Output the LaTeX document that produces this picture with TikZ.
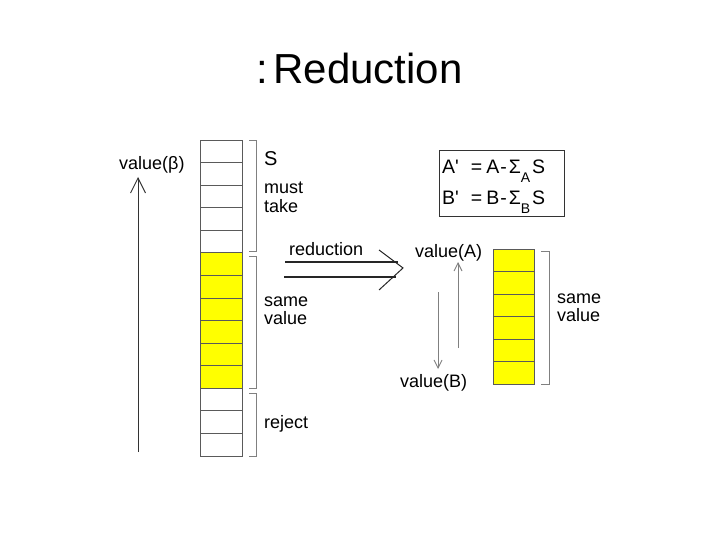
\documentclass[tikz,border=0pt]{standalone}
\usepackage{fontspec}
\setmainfont{Liberation Sans}
\usetikzlibrary{arrows.meta}
\definecolor{cellyellow}{RGB}{255,255,0}
\definecolor{brk}{RGB}{128,128,128}
\definecolor{celline}{RGB}{90,90,90}
\tikzset{
  cell/.style={draw=celline, line width=0.9pt, minimum width=42pt, minimum height=22.57pt, inner sep=0pt, fill=white},
  ycell/.style={cell, fill=cellyellow},
  rcell/.style={draw=celline, line width=0.9pt, minimum width=41pt, minimum height=22.5pt, inner sep=0pt, fill=cellyellow},
  bracket/.style={draw=brk, line width=1pt},
  lbl/.style={anchor=base west, inner sep=0pt, font=\fontsize{18}{18}\selectfont},
  barb/.style={-{Straight Barb[length=15pt,width=15pt,line width=0.9pt]}, line width=0.9pt},
  smallbarb/.style={-{Straight Barb[length=8pt,width=8pt,line width=0.9pt]}, line width=1pt, draw=brk},
}
\newcommand{\myformula}[1]{#1\textquotesingle\kern12pt=\kern4pt #1\kern1pt-\kern2ptΣ\raisebox{-0.45em}{\fontsize{14}{14}\selectfont #1}\kern2pt S}
\begin{document}
\begin{tikzpicture}[x=1pt,y=-1pt]
\useasboundingbox (0,0) rectangle (720,540);
% title
\node[anchor=base west, inner sep=0pt, font=\fontsize{42}{42}\selectfont] (title) at (256,84) {:\kern-10pt{} Reduction};
% left column
\foreach \i in {0,...,13}{
  \pgfmathtruncatemacro{\isy}{(\i>4)&&(\i<11)}
  \ifnum\isy=1
    \node[ycell] (L\i) at (221,{140+22.57*\i+11.285}) {};
  \else
    \node[cell] (L\i) at (221,{140+22.57*\i+11.285}) {};
  \fi
}
% brackets left
\draw[bracket] (249,141) -- (256,141) -- (256,251) -- (249,251);
\draw[bracket] (249,256) -- (256,256) -- (256,388) -- (249,388);
\draw[bracket] (249,393) -- (256,393) -- (256,456) -- (249,456);
% labels left
\node[lbl, font=\fontsize{20}{20}\selectfont] (S) at (264,166) {S};
\node[lbl] (must) at (264,194) {must};
\node[lbl] (take) at (264,213) {take};
\node[lbl] (same1) at (264,306) {same};
\node[lbl] (value1) at (264,324) {value};
\node[lbl] (reject) at (264,428) {reject};
% value(beta)
\node[lbl] (vbeta) at (119,170) {value(β)};
\coordinate (bstart) at (138,452);
\coordinate (btip) at (138,177);
\draw[barb, draw=black!80] (bstart) -- (btip);
% reduction arrow
\node[lbl] (red) at (289,255) {reduction};
\coordinate (r1a) at (285,262);
\coordinate (r1b) at (398,262);
\coordinate (r2a) at (284,277);
\coordinate (r2b) at (396,277);
\coordinate (ch1) at (379,250);
\coordinate (ch2) at (403,268);
\coordinate (ch3) at (379,290);
\draw[line width=1.3pt, black!85] (r1a) -- (r1b);
\draw[line width=1.3pt, black!85] (r2a) -- (r2b);
\draw[line width=1pt, black!85] (ch1) -- (ch2) -- (ch3);
% value(A), value(B)
\node[lbl] (vA) at (415,257) {value(A)};
\node[lbl] (vB) at (400,387) {value(B)};
\coordinate (upS) at (458,348);
\coordinate (upT) at (458,262);
\coordinate (dnS) at (438,292);
\coordinate (dnT) at (438,369);
\draw[smallbarb] (upS) -- (upT);
\draw[smallbarb] (dnS) -- (dnT);
% right column
\foreach \i in {0,...,5}{
  \node[rcell] (R\i) at (513.5,{249+22.5*\i+11.25}) {};
}
\draw[bracket] (541,251) -- (549,251) -- (549,384) -- (541,384);
\node[lbl] (same2) at (557,303) {same};
\node[lbl] (value2) at (557,321) {value};
% formula box
\node[draw=black!80, line width=1pt, minimum width=125pt, minimum height=66pt, inner sep=0pt] (fbox) at (501.5,184) {};
\node[lbl, font=\fontsize{19.5}{19.5}\selectfont] (fA) at (442,174) {\myformula{A}};
\node[lbl, font=\fontsize{19.5}{19.5}\selectfont] (fB) at (442,205) {\myformula{B}};
\end{tikzpicture}
\end{document}
